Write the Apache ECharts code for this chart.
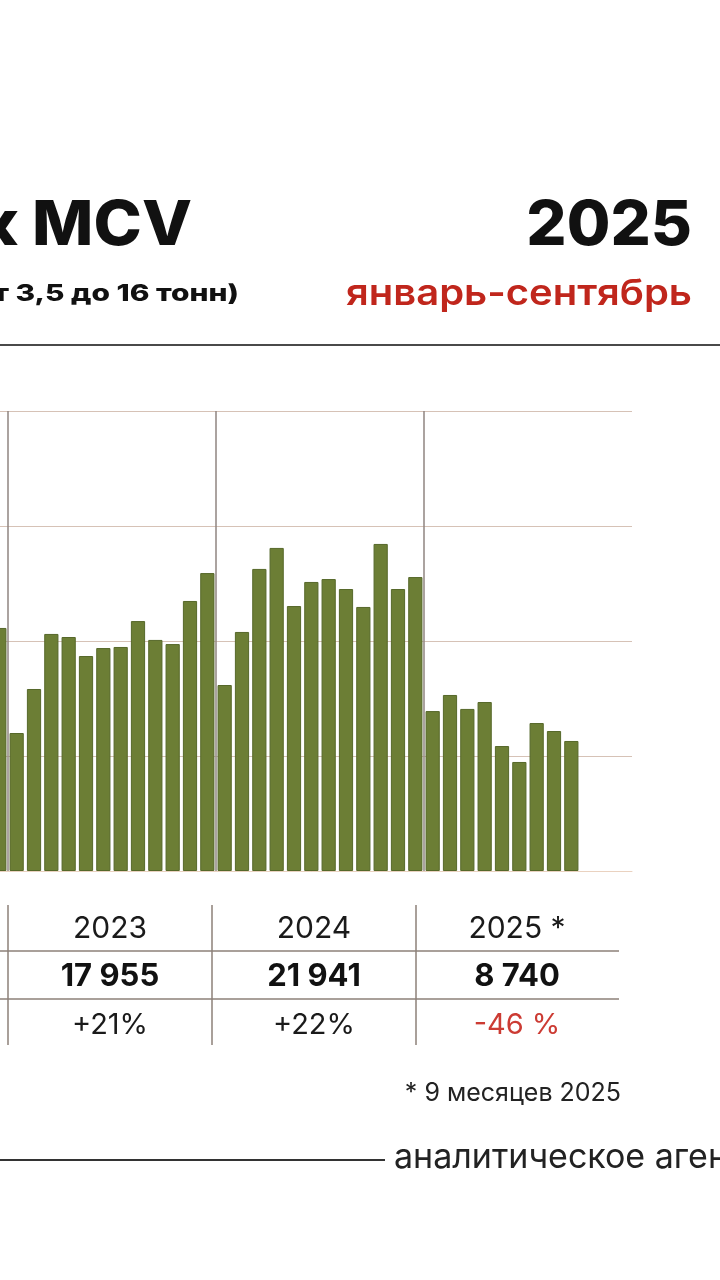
<!DOCTYPE html>
<html>
<head>
<meta charset="utf-8">
<script src="https://cdn.jsdelivr.net/npm/echarts@6/dist/echarts.min.js"></script>
<style>
html,body{margin:0;padding:0;background:#fff;overflow:hidden;width:720px;height:1280px;position:relative;}
#c{position:absolute;left:-40px;top:0;width:760px;height:1280px;}
</style>
</head>
<body>
<div id="c"></div>
<script>
// ---- data ----
var months = ['01','02','03','04','05','06','07','08','09','10','11','12'];
var dec2022 = [1585];
var sales2023 = [900, 1187, 1546, 1526, 1402, 1454, 1461, 1630, 1507, 1480, 1761, 1943];
var sales2024 = [1213, 1559, 1970, 2107, 1728, 1885, 1904, 1839, 1722, 2133, 1839, 1917];
var sales2025 = [1043, 1148, 1057, 1102, 815, 711, 965, 913, 848, null, null, null];
var tableYears = ['2023', '2024', '2025 *'];
var tableTotals = ['17 955', '21 941', '8 740'];
var tableChanges = ['+21%', '+22%', '-46 %'];
var yTicks = [0, 750, 1500, 2250, 3000];
var yearStarts = [1, 13, 25]; // category index where a new year begins

// ---- build categories ----
var categories = ['12.2022'];
['2023','2024','2025'].forEach(function(y){ months.forEach(function(m){ categories.push(m + '.' + y); }); });
var values = dec2022.concat(sales2023, sales2024, sales2025);

var OFF = 40; // container is shifted left so the chart is cropped like the reference
function X(x){ return x + OFF; }

var chart = echarts.init(document.getElementById('c'), null, {renderer:'canvas'});

var FONT = 'Inter, "Open Sans", sans-serif';
var lineColor = '#8c8079';

var colCenters = [110, 314, 517];
var g = [];
function txt(s, x, y, align, font, fill, sx){
  return {type:'text', x:X(x), y:y, scaleX: sx || 1, originX: 0, originY: 0,
    style:{text:s, x:0, y:0, align:align, verticalAlign:'middle', font:font, fill:fill}};
}
// header
g.push(txt('Рынок MCV', 192, 226, 'right', '800 62px ' + FONT, '#111', 1.05));
g.push(txt('2025', 692, 226, 'right', '800 62px ' + FONT, '#111', 1.02));
g.push(txt('(полная масса от 3,5 до 16 тонн)', 239, 294, 'right', '800 23px ' + FONT, '#111', 1.3));
g.push(txt('январь-сентябрь', 692, 294, 'right', '600 36px ' + FONT, '#c0261c', 1.11));
g.push({type:'line', shape:{x1:0, y1:345, x2:X(720), y2:345}, style:{stroke:'#4a4a4a', lineWidth:2}});
// table lines
[8, 212, 416].forEach(function(x){
  g.push({type:'line', shape:{x1:X(x), y1:905, x2:X(x), y2:1045}, style:{stroke:lineColor, lineWidth:1.5}});
});
[951, 999].forEach(function(y){
  g.push({type:'line', shape:{x1:0, y1:y, x2:X(619), y2:y}, style:{stroke:lineColor, lineWidth:1.5}});
});
// table texts
tableYears.forEach(function(t, i){
  g.push(txt(t, colCenters[i], 929, 'center', '400 30px ' + FONT, '#1a1a1a'));
});
tableTotals.forEach(function(t, i){
  g.push(txt(t, colCenters[i], 977, 'center', '700 31px ' + FONT, '#111'));
});
tableChanges.forEach(function(t, i){
  var red = t.charAt(0) === '-';
  g.push(txt(t, colCenters[i], 1025, 'center', '400 29px ' + FONT, red ? '#cc3b33' : '#1a1a1a'));
});
// footnote & footer
g.push(txt('* 9 месяцев 2025', 621, 1093, 'right', '400 25px ' + FONT, '#222'));
g.push({type:'line', shape:{x1:0, y1:1160, x2:X(385), y2:1160}, style:{stroke:'#333', lineWidth:2}});
g.push(txt('аналитическое агентство АВТОСТАТ', 394, 1158, 'left', '400 34px ' + FONT, '#222'));

chart.setOption({
  animation: false,
  backgroundColor: '#ffffff',
  grid: {left: OFF - 9.33, right: 88, top: 411, bottom: 409, containLabel: false},
  xAxis: {
    type: 'category',
    data: categories,
    boundaryGap: true,
    axisLine: {show: true, lineStyle: {color: '#ead2c0', width: 1}},
    axisTick: {show: false},
    axisLabel: {show: false},
    splitLine: {show: false}
  },
  yAxis: {
    type: 'value',
    min: yTicks[0],
    max: yTicks[yTicks.length-1],
    interval: yTicks[1] - yTicks[0],
    axisLine: {show: false},
    axisTick: {show: false},
    axisLabel: {show: false},
    splitLine: {show: true, lineStyle: {color: '#d6c2b6', width: 1.2}}
  },
  series: [{
    type: 'custom',
    data: yearStarts.map(function(i){ return [i, 0]; }),
    encode: {x: 0, y: 1},
    z: 2,
    silent: true,
    renderItem: function(params, api){
      var idx = api.value(0);
      var top = api.coord([idx, yTicks[yTicks.length-1]]);
      var bottom = api.coord([idx, 0]);
      var half = api.size([1, 0])[0] / 2;
      return {
        type: 'line',
        shape: {x1: top[0] - half, y1: top[1], x2: bottom[0] - half, y2: bottom[1]},
        style: {stroke: '#8f8580', lineWidth: 1.5}
      };
    }
  }, {
    type: 'bar',
    data: values,
    barCategoryGap: '18%',
    itemStyle: {color: '#6c7e35', borderColor: '#56682a', borderWidth: 1},
    z: 3
  }],
  graphic: g
});
</script>
</body>
</html>
